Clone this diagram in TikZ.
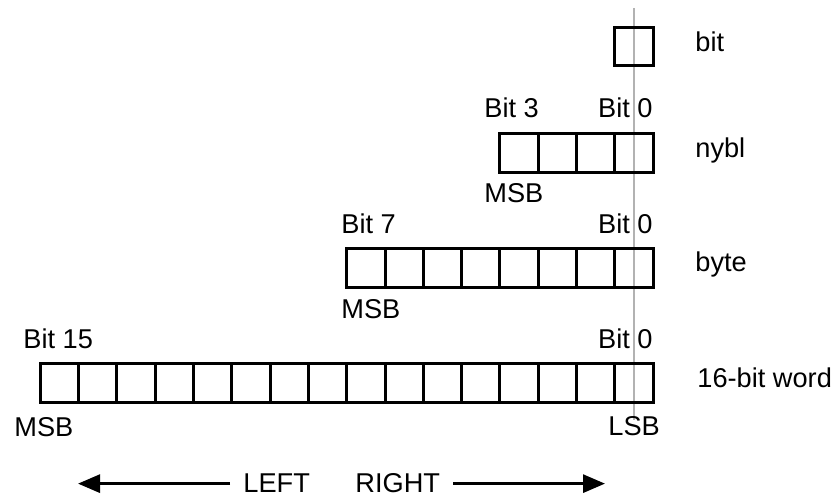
\documentclass[tikz,border=0pt]{standalone}
\usepackage{fontspec}
\setmainfont{Liberation Sans}
\usetikzlibrary{arrows.meta}
\tikzset{
  cell/.style={draw, line width=1.5pt, minimum size=19.15pt, inner sep=0pt, outer sep=0pt},
  lbl/.style={inner sep=0pt, font=\fontsize{13.6}{16}\selectfont},
  dirlbl/.style={lbl, inner xsep=6.5pt},
  shiftarrow/.style={line width=1.5pt, -{Triangle[length=11pt,width=9pt]}}
}
\begin{document}
\begin{tikzpicture}[x=0.5pt, y=-0.5pt]
\useasboundingbox (0,0) rectangle (837,497);

\coordinate (top) at (633.5, 8);
\coordinate (bot) at (633.5, 420);
\draw[black!30, line width=1pt] (top) -- (bot);

\node[cell] (bit0) at (634, 46.5) {};
\foreach \i in {0,...,3} \node[cell] (ny\i) at ({634-38.3*\i}, 153) {};
\foreach \i in {0,...,7} \node[cell] (by\i) at ({634-38.3*\i}, 268) {};
\foreach \i in {0,...,15} \node[cell] (w\i) at ({634-38.3*\i}, 383) {};

\node[lbl, anchor=base west] (tbit) at (695, 52) {bit};
\node[lbl, anchor=base west] (tnybl) at (695, 158) {nybl};
\node[lbl, anchor=base west] (tbyte) at (695, 272) {byte};
\node[lbl, anchor=base west] (tword) at (697, 388) {16-bit word};

\node[lbl, anchor=base west] (ny3top) at (484, 118) {Bit 3};
\node[lbl, anchor=base east] (ny0top) at (653, 118) {Bit 0};
\node[lbl, anchor=base west] (ny3bot) at (484, 203) {MSB};

\node[lbl, anchor=base west] (by7top) at (341, 234) {Bit 7};
\node[lbl, anchor=base east] (by0top) at (653, 234) {Bit 0};
\node[lbl, anchor=base west] (by7bot) at (341, 319) {MSB};

\node[lbl, anchor=base west] (w15top) at (23, 349) {Bit 15};
\node[lbl, anchor=base east] (w0top) at (653, 349) {Bit 0};
\node[lbl, anchor=base west] (w15bot) at (14, 437) {MSB};
\node[lbl, anchor=base west] (w0bot) at (608, 436) {LSB};

\node[dirlbl, anchor=base west] (tleft) at (230, 493) {LEFT};
\node[dirlbl, anchor=base west] (tright) at (342, 493) {RIGHT};
\coordinate (ltip) at (78, 0);
\coordinate (rtip) at (605, 0);

\draw[shiftarrow] (tleft.west) -- (tleft.west -| ltip);
\draw[shiftarrow] (tright.east) -- (tright.east -| rtip);
\end{tikzpicture}
\end{document}
